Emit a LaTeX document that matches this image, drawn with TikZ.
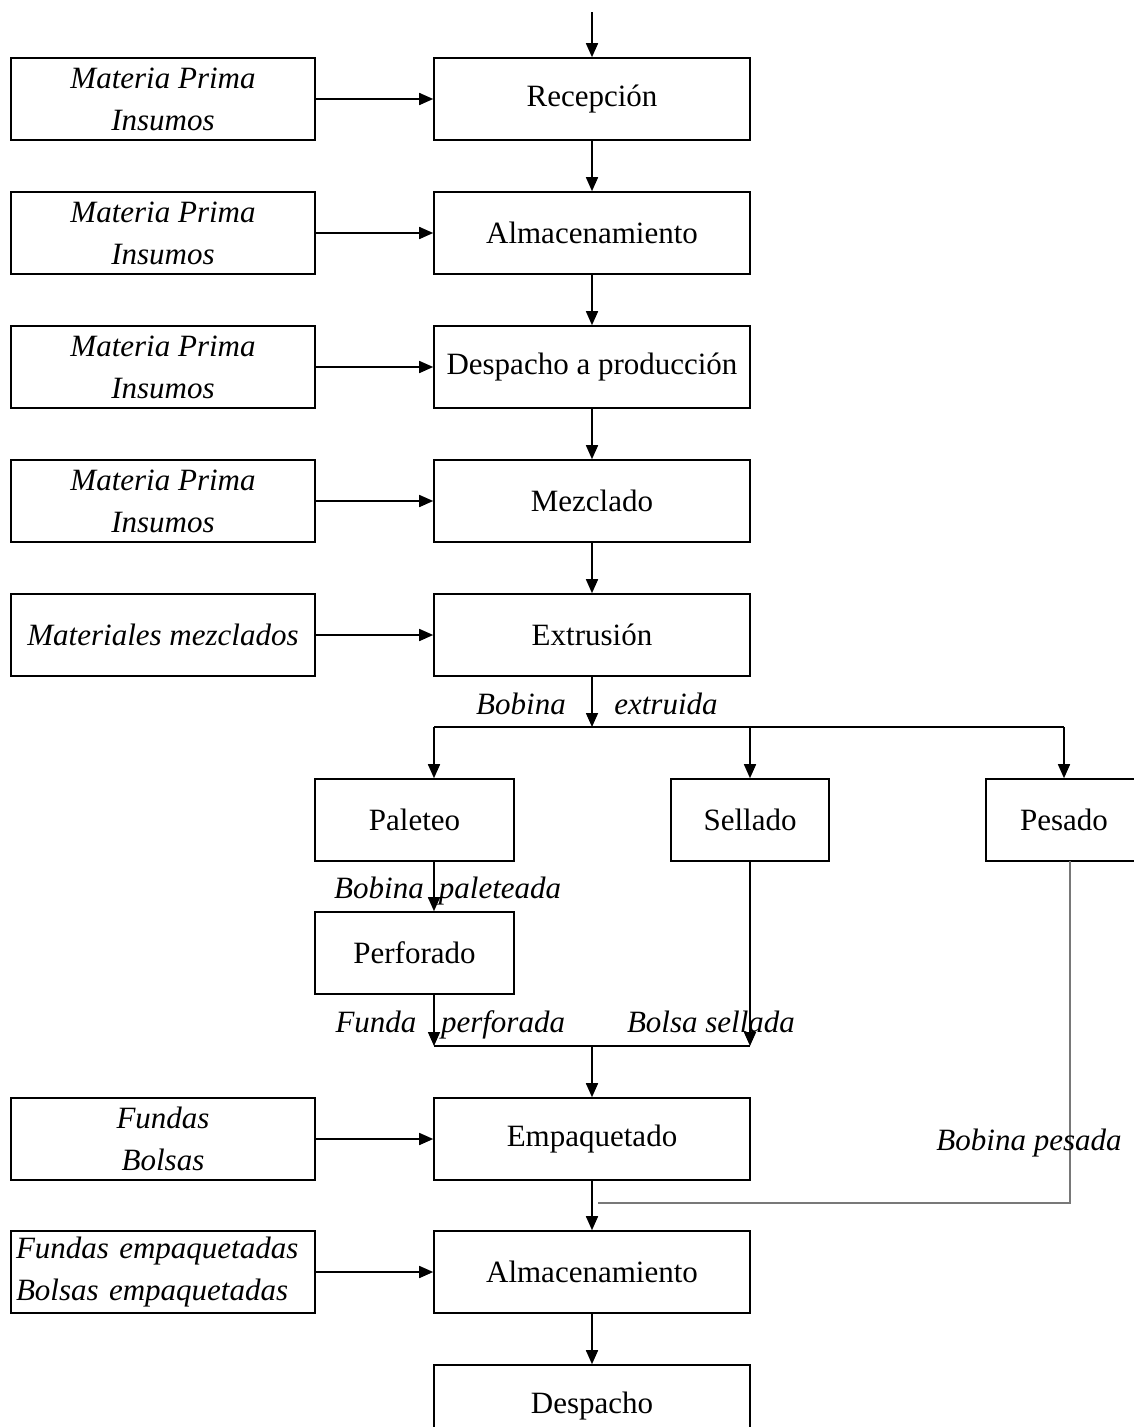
\documentclass[tikz,border=0pt]{standalone}
\usepackage{fontspec}
\setmainfont{Liberation Serif}
\usetikzlibrary{arrows.meta}
\begin{document}
\begin{tikzpicture}[x=1pt,y=-1pt,
  box/.style={draw, line width=1.6pt, minimum height=82pt, inner sep=0pt,
    font=\fontsize{31}{36}\selectfont},
  proc/.style={box, minimum width=316pt},
  inbox/.style={box, minimum width=304pt, align=center,
    font=\fontsize{31}{42}\selectfont\itshape},
  lbl/.style={inner sep=0pt, anchor=base, font=\fontsize{31}{36}\selectfont\itshape},
  arr/.style={line width=1.6pt, -{Triangle[length=14pt,width=12pt]}},
  ln/.style={line width=1.6pt},
  grayln/.style={line width=1.6pt, draw={rgb,255:red,120;green,120;blue,120}}
]
\useasboundingbox (0,0) rectangle (1134,1427);
\clip (0,0) rectangle (1134,1427);
\fill[white] (0,0) rectangle (1134,1427);

% main column of process steps
\node[proc] (rec)  at (592,99)   {Recepción};
\node[proc] (alm1) at (592,233)  {Almacenamiento};
\node[proc] (desp) at (592,367)  {Despacho a producción};
\node[proc] (mez)  at (592,501)  {Mezclado};
\node[proc] (ext)  at (592,635)  {Extrusión};
\node[proc] (emp)  at (592,1139) {Empaquetado};
\node[proc] (alm2) at (592,1272) {Almacenamiento};
\node[proc] (des)  at (592,1406) {Despacho};

% branch steps
\node[box, minimum width=199pt] (pal) at (414.5,820) {Paleteo};
\node[box, minimum width=158pt] (sel) at (750,820)   {Sellado};
\node[box, minimum width=156pt] (pes) at (1064,820)  {Pesado};
\node[box, minimum width=199pt] (per) at (414.5,953) {Perforado};

% inputs on the left
\node[inbox] (in1) at (163,99)  {Materia Prima\\Insumos};
\node[inbox] (in2) at (163,233) {Materia Prima\\Insumos};
\node[inbox] (in3) at (163,367) {Materia Prima\\Insumos};
\node[inbox] (in4) at (163,501) {Materia Prima\\Insumos};
\node[inbox] (in5) at (163,635) {Materiales mezclados};
\node[inbox] (in6) at (163,1139) {Fundas\\Bolsas};
\node[inbox, text width=300pt, align=left] (in7) at (163,1272)
  {\hspace*{3pt}Fundas empaquetadas\\\hspace*{3pt}Bolsas empaquetadas};

\foreach \a/\b in {in1/rec,in2/alm1,in3/desp,in4/mez,in5/ext,in6/emp,in7/alm2}
  \draw[arr] (\a) -- (\b);

% main flow
\coordinate (top) at (592,12);
\draw[arr] (top) -- (rec);
\draw[arr] (rec) -- (alm1);
\draw[arr] (alm1) -- (desp);
\draw[arr] (desp) -- (mez);
\draw[arr] (mez) -- (ext);

% split after extrusion
\coordinate (j1) at (592,727);
\coordinate (pl) at (434,727);
\draw[arr] (ext) -- (j1);
\draw[ln] (pl) -- (pes.north |- j1);
\draw[arr] (pl) -- (pl |- pal.north);
\draw[arr] (sel.north |- j1) -- (sel);
\draw[arr] (pes.north |- j1) -- (pes);

% paleteo -> perforado
\draw[arr] (pl |- pal.south) -- (pl |- per.north);

% merge before empaquetado
\coordinate (j2l) at (434,1046);
\coordinate (j2) at (592,1046);
\draw[arr] (pl |- per.south) -- (j2l);
\draw[arr] (sel) -- (sel |- j2l);
\draw[ln] (j2l) -- (sel |- j2l);
\draw[arr] (j2) -- (emp);

% weighed coil return line
\coordinate (pd) at (1070,861);
\coordinate (j3) at (598,1203);
\draw[grayln] (pd) |- (j3);
\draw[arr] (emp) -- (alm2);
\draw[arr] (alm2) -- (des);

% flow labels
\node[lbl] (l1) at (521,714)  {Bobina};
\node[lbl] (l2) at (666,714)  {extruida};
\node[lbl] (l3) at (379,898)  {Bobina};
\node[lbl] (l4) at (500,898)  {paleteada};
\node[lbl] (l5) at (376,1032) {Funda};
\node[lbl] (l6) at (503,1032) {perforada};
\node[lbl] (l7) at (711,1032) {Bolsa sellada};
\node[lbl] (l8) at (1029,1150) {Bobina pesada};
\end{tikzpicture}
\end{document}
